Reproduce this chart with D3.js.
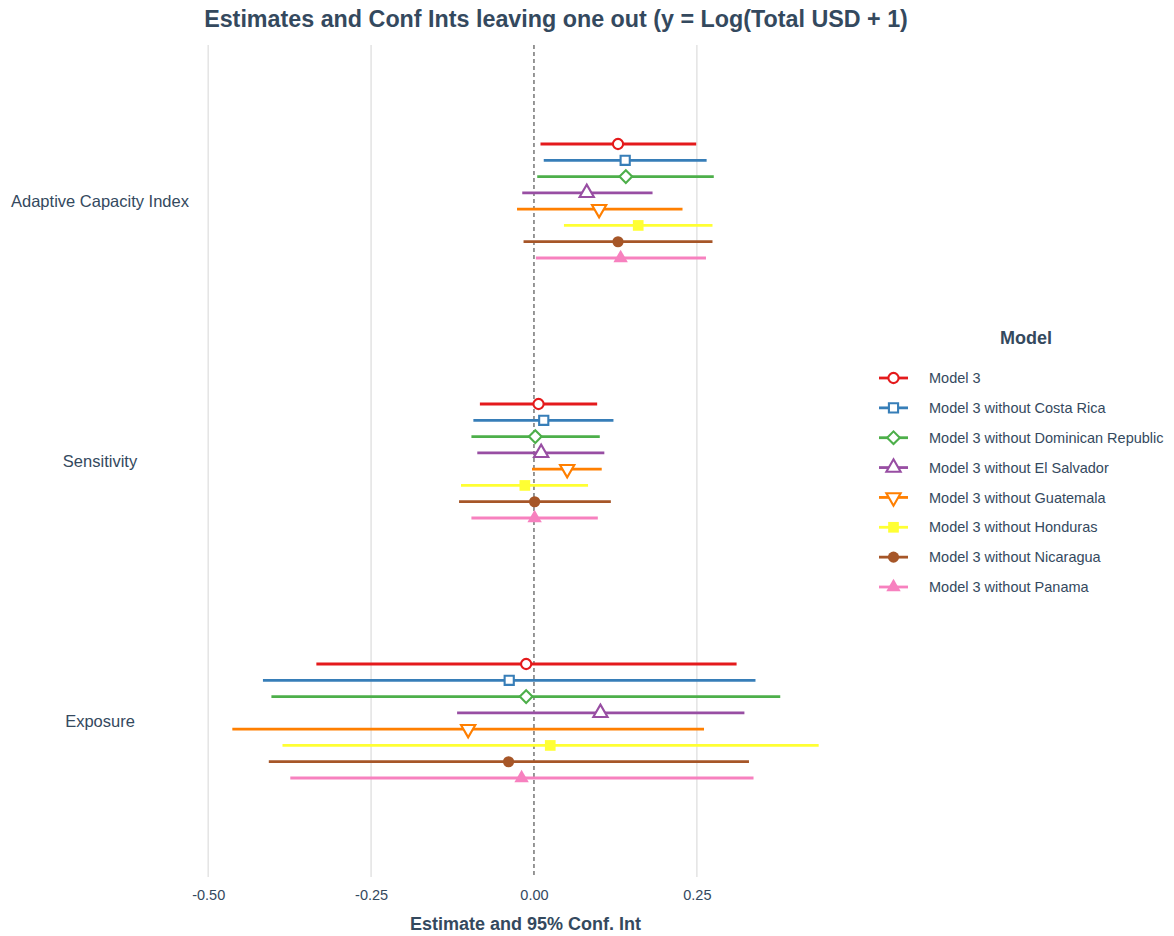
<!DOCTYPE html>
<html>
<head>
<meta charset="utf-8">
<script src="https://cdn.jsdelivr.net/npm/d3@7"></script>
<style>
  html, body { margin: 0; padding: 0; background: #ffffff; }
  svg { display: block; font-family: "Liberation Sans", Arial, Helvetica, sans-serif; }
</style>
</head>
<body>
<svg id="chart" width="1174" height="936"></svg>
<script>
// Terms (top to bottom) and models (legend order)
const terms = ["Adaptive Capacity Index", "Sensitivity", "Exposure"];
const models = [
  "Model 3",
  "Model 3 without Costa Rica",
  "Model 3 without Dominican Republic",
  "Model 3 without El Salvador",
  "Model 3 without Guatemala",
  "Model 3 without Honduras",
  "Model 3 without Nicaragua",
  "Model 3 without Panama"
];
const colors = ["#E41A1C", "#377EB8", "#4DAF4A", "#984EA3", "#FF7F00", "#FFFF33", "#A65628", "#F781BF"];

// Point estimates, one array per term, in model order
const estAdaptive    = [0.129, 0.140, 0.141, 0.081, 0.100, 0.160, 0.129, 0.133];
const estSensitivity = [0.007, 0.015, 0.002, 0.011, 0.051, -0.014, 0.001, 0.001];
const estExposure    = [-0.012, -0.038, -0.012, 0.102, -0.101, 0.025, -0.039, -0.019];

// Lower 95% bounds
const loAdaptive    = [0.010, 0.015, 0.005, -0.018, -0.026, 0.046, -0.016, 0.003];
const loSensitivity = [-0.083, -0.093, -0.096, -0.087, -0.003, -0.112, -0.115, -0.096];
const loExposure    = [-0.334, -0.416, -0.403, -0.118, -0.463, -0.386, -0.407, -0.374];

// Upper 95% bounds
const hiAdaptive    = [0.249, 0.265, 0.276, 0.182, 0.228, 0.274, 0.274, 0.264];
const hiSensitivity = [0.097, 0.122, 0.101, 0.108, 0.104, 0.083, 0.118, 0.098];
const hiExposure    = [0.311, 0.340, 0.378, 0.323, 0.261, 0.437, 0.330, 0.337];

const xTicks = [-0.5, -0.25, 0, 0.25];

const titleText = "Estimates and Conf Ints leaving one out (y = Log(Total USD + 1)";
const xTitle = "Estimate and 95% Conf. Int";
const legendTitle = "Model";

// Assemble long-format rows
const estimates = [estAdaptive, estSensitivity, estExposure];
const lows = [loAdaptive, loSensitivity, loExposure];
const highs = [hiAdaptive, hiSensitivity, hiExposure];
const rows = [];
terms.forEach((t, ti) => {
  models.forEach((m, mi) => {
    rows.push({ term: t, model: m, mi, est: estimates[ti][mi], lo: lows[ti][mi], hi: highs[ti][mi] });
  });
});

const textColor = "#34495e";
const svg = d3.select("#chart");

// Panel geometry
const panel = { left: 203, right: 848, top: 45, bottom: 877 };

const allVals = rows.flatMap(d => [d.lo, d.hi]);
const xmin = d3.min(allVals), xmax = d3.max(allVals);
const pad = (xmax - xmin) * 0.05;
const x = d3.scaleLinear().domain([xmin - pad, xmax + pad]).range([panel.left, panel.right]);

const y = d3.scalePoint().domain(terms).range([panel.top, panel.bottom]).padding(0.6);
const dodge = d3.scalePoint().domain(models).range([-57, 57]);

// Marker shapes per model
const shapeDefs = [
  { type: d3.symbolCircle,   size: 82,  filled: false, rotate: 0 },
  { type: d3.symbolSquare,   size: 84,  filled: false, rotate: 0 },
  { type: d3.symbolSquare,   size: 80,  filled: false, rotate: 45 },
  { type: d3.symbolTriangle, size: 88,  filled: false, rotate: 0 },
  { type: d3.symbolTriangle, size: 88,  filled: false, rotate: 180 },
  { type: d3.symbolSquare,   size: 114, filled: true,  rotate: 0 },
  { type: d3.symbolCircle,   size: 98,  filled: true,  rotate: 0 },
  { type: d3.symbolTriangle, size: 90,  filled: true,  rotate: 0 }
];

function drawMarker(g, mi, cx, cy) {
  const s = shapeDefs[mi];
  g.append("path")
    .attr("d", d3.symbol().type(s.type).size(s.size)())
    .attr("transform", `translate(${cx},${cy}) rotate(${s.rotate})`)
    .attr("fill", s.filled ? colors[mi] : "#ffffff")
    .attr("stroke", s.filled ? "none" : colors[mi])
    .attr("stroke-width", 2.1);
}

// Vertical grid lines
svg.append("g").selectAll("line")
  .data(xTicks.filter(v => v !== 0))
  .join("line")
  .attr("x1", d => x(d)).attr("x2", d => x(d))
  .attr("y1", panel.top).attr("y2", panel.bottom)
  .attr("stroke", "#e5e5e5").attr("stroke-width", 1.6);

// Zero reference line
svg.append("line")
  .attr("x1", x(0)).attr("x2", x(0))
  .attr("y1", panel.top).attr("y2", panel.bottom)
  .attr("stroke", "#444").attr("stroke-width", 1.1)
  .attr("stroke-dasharray", "4,3");

// Confidence intervals
const marks = svg.append("g");
rows.forEach(d => {
  const cy = y(d.term) + dodge(d.model);
  marks.append("line")
    .attr("x1", x(d.lo)).attr("x2", x(d.hi))
    .attr("y1", cy).attr("y2", cy)
    .attr("stroke", colors[d.mi]).attr("stroke-width", 2.8);
});
rows.forEach(d => {
  const cy = y(d.term) + dodge(d.model);
  drawMarker(marks, d.mi, x(d.est), cy);
});

// X axis tick labels (plain hyphen for negatives)
const fmt = d3.format(".2f");
const xAxis = d3.axisBottom(x).tickValues(xTicks)
  .tickFormat(d => fmt(d).replace("\u2212", "-"))
  .tickSize(0).tickPadding(0);
const gx = svg.append("g").attr("transform", `translate(0,${panel.bottom + 13})`).call(xAxis);
gx.select(".domain").remove();
gx.selectAll("text").attr("fill", textColor).attr("font-size", 14.5)
  .attr("font-family", "Liberation Sans, Arial, sans-serif");

// Y axis term labels
svg.append("g").selectAll("text")
  .data(terms).join("text")
  .attr("x", 100).attr("y", d => y(d))
  .attr("dy", "0.35em")
  .attr("text-anchor", "middle")
  .attr("fill", textColor).attr("font-size", 16.5)
  .text(d => d);

// Titles
svg.append("text")
  .attr("x", 556).attr("y", 27)
  .attr("text-anchor", "middle")
  .attr("fill", textColor).attr("font-size", 23.3).attr("font-weight", "bold")
  .text(titleText);

svg.append("text")
  .attr("x", (panel.left + panel.right) / 2).attr("y", 930)
  .attr("text-anchor", "middle")
  .attr("fill", textColor).attr("font-size", 18).attr("font-weight", "bold")
  .text(xTitle);

// Legend
const legend = svg.append("g");
legend.append("text")
  .attr("x", 1026).attr("y", 344)
  .attr("text-anchor", "middle")
  .attr("fill", textColor).attr("font-size", 18).attr("font-weight", "bold")
  .text(legendTitle);

const legendY = d3.scalePoint().domain(models).range([378, 587]);
models.forEach((m, mi) => {
  const cy = legendY(m);
  legend.append("line")
    .attr("x1", 879).attr("x2", 908)
    .attr("y1", cy).attr("y2", cy)
    .attr("stroke", colors[mi]).attr("stroke-width", 2.8);
  drawMarker(legend, mi, 893.5, cy);
  legend.append("text")
    .attr("x", 929).attr("y", cy).attr("dy", "0.35em")
    .attr("fill", textColor).attr("font-size", 14.5)
    .text(m);
});
</script>
</body>
</html>
